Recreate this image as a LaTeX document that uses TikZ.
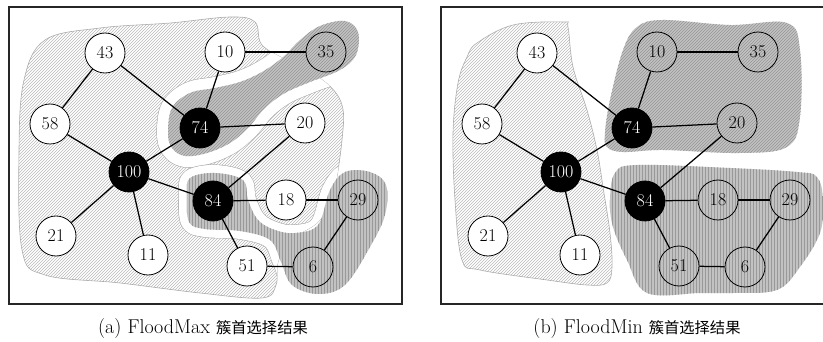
\documentclass[tikz,border=0pt]{standalone}
\usepackage{fontspec}
\newfontfamily\cjk{Noto Sans CJK SC}
\usetikzlibrary{patterns}
\tikzset{
  v/.style={circle, draw=black, line width=0.8pt, minimum size=40pt, inner sep=0pt, font=\fontsize{18}{18}\selectfont},
  vw/.style={v, fill=white},
  vb/.style={v, fill=black, text=white},
  ed/.style={line width=1.25pt, black},
  lightfill/.style={pattern=north east lines, pattern color=black!27},
  lightline/.style={draw=black!32, line width=0.6pt},
  darkbase/.style={fill=black!24},
  darkdiag/.style={pattern=north east lines, pattern color=black!42},
  darkvert/.style={pattern=vertical lines, pattern color=black!40},
  frame/.style={draw=black!85, line width=1.3pt},
  captext/.style={anchor=base, font=\fontsize{20}{20}\selectfont},
}
% left panel regions
\def\La{plot[smooth cycle, tension=0.6] coordinates {(19,150) (24,80) (45,40) (100,28) (170,23) (230,17) (255,22) (262,45) (290,62) (325,82) (342,105) (342,140) (333,195) (318,222) (290,240) (278,262) (276,285) (262,298) (200,293) (120,283) (45,275) (22,250)}}
\def\Da{plot[smooth cycle, tension=0.6] coordinates {(168,133) (172,108) (190,93) (215,88) (240,82) (262,72) (282,58) (300,40) (320,26) (345,21) (358,32) (356,55) (340,70) (310,82) (285,93) (265,108) (248,128) (230,143) (207,153) (185,156) (172,148)}}
\def\Db{plot[smooth cycle, tension=0.6] coordinates {(187,195) (190,178) (215,173) (243,180) (248,200) (258,220) (275,230) (295,233) (318,225) (330,190) (345,172) (370,172) (386,185) (385,215) (370,247) (345,285) (318,294) (292,285) (281,262) (270,240) (240,231) (205,229) (189,222)}}
% right panel regions (relative to shift 432)
\def\Lb{plot[smooth cycle, tension=0.6] coordinates {(45,43) (81,25) (131,22) (136,27) (141,67) (155,110) (165,150) (171,187) (178,233) (180,267) (175,283) (155,285) (115,280) (48,270) (30,260) (23,200) (21,133) (26,83) (35,57)}}
\def\Dc{plot[smooth cycle, tension=0.6] coordinates {(173,133) (178,100) (191,50) (205,27) (231,20) (298,25) (355,23) (368,50) (368,117) (355,147) (308,153) (231,150) (191,152) (175,147)}}
\def\Dd{plot[smooth cycle, tension=0.6] coordinates {(178,200) (183,173) (205,165) (298,168) (365,172) (385,177) (391,200) (388,233) (368,267) (345,290) (301,293) (268,293) (215,293) (195,260) (181,227)}}
\begin{document}
\begin{tikzpicture}[x=1pt, y=-1pt]
\useasboundingbox (0,0) rectangle (823,342);
\clip (0,0) rectangle (823,342);
% ===== left panel =====
\fill[lightfill] \La;
\draw[lightline] \La;
\begin{scope}
  \clip \La;
  \draw[black!32, line width=23.2pt, line join=round] \Da;
  \draw[white, line width=22pt, line join=round] \Da;
  \fill[white] \Da;
  \draw[black!32, line width=17.2pt, line join=round] \Db;
  \draw[white, line width=16pt, line join=round] \Db;
  \fill[white] \Db;
\end{scope}
\fill[darkbase] \Da;
\fill[darkdiag] \Da;
\fill[darkbase] \Db;
\fill[darkvert] \Db;
\path[frame] (9,7) rectangle (402,304);
\node[vw] (a43) at (105,53) {43};
\node[vw] (a10) at (225,52) {10};
\node[v]  (a35) at (326,52) {35};
\node[vw] (a58) at (50,124) {58};
\node[vb] (a74) at (200,128) {74};
\node[vw] (a20) at (305,123) {20};
\node[vb] (a100) at (129,172) {100};
\node[vb] (a84) at (213,201) {84};
\node[vw] (a18) at (286,200) {18};
\node[v]  (a29) at (358,200) {29};
\node[vw] (a21) at (56,236) {21};
\node[vw] (a11) at (148,255) {11};
\node[vw] (a51) at (247,266) {51};
\node[v]  (a6) at (313,267) {6};
\draw[ed] (a43) -- (a58);
\draw[ed] (a43) -- (a74);
\draw[ed] (a10) -- (a74);
\draw[ed] (a10) -- (a35);
\draw[ed] (a58) -- (a100);
\draw[ed] (a74) -- (a100);
\draw[ed] (a74) -- (a20);
\draw[ed] (a20) -- (a84);
\draw[ed] (a100) -- (a84);
\draw[ed] (a100) -- (a21);
\draw[ed] (a100) -- (a11);
\draw[ed] (a84) -- (a18);
\draw[ed] (a18) -- (a29);
\draw[ed] (a84) -- (a51);
\draw[ed] (a51) -- (a6);
\draw[ed] (a6) -- (a29);
\node[captext] (capa) at (203,334) {(a) FloodMax {\cjk\fontsize{15.3}{15.3}\selectfont 簇首选择结果}};
% ===== right panel =====
\begin{scope}[xshift=432pt]
\fill[lightfill] \Lb;
\draw[lightline] \Lb;
\fill[darkbase] \Dc;
\fill[darkdiag] \Dc;
\fill[darkbase] \Dd;
\fill[darkvert] \Dd;
\path[frame] (9,7) rectangle (402,304);
\node[vw] (b43) at (105,53) {43};
\node[v]  (b10) at (225,52) {10};
\node[v]  (b35) at (326,52) {35};
\node[vw] (b58) at (50,124) {58};
\node[vb] (b74) at (200,128) {74};
\node[v]  (b20) at (305,123) {20};
\node[vb] (b100) at (129,172) {100};
\node[vb] (b84) at (213,201) {84};
\node[v]  (b18) at (286,200) {18};
\node[v]  (b29) at (358,200) {29};
\node[vw] (b21) at (56,236) {21};
\node[vw] (b11) at (148,255) {11};
\node[v]  (b51) at (247,266) {51};
\node[v]  (b6) at (313,267) {6};
\draw[ed] (b43) -- (b58);
\draw[ed] (b43) -- (b74);
\draw[ed] (b10) -- (b74);
\draw[ed] (b10) -- (b35);
\draw[ed] (b58) -- (b100);
\draw[ed] (b74) -- (b100);
\draw[ed] (b74) -- (b20);
\draw[ed] (b20) -- (b84);
\draw[ed] (b100) -- (b84);
\draw[ed] (b100) -- (b21);
\draw[ed] (b100) -- (b11);
\draw[ed] (b84) -- (b18);
\draw[ed] (b18) -- (b29);
\draw[ed] (b84) -- (b51);
\draw[ed] (b51) -- (b6);
\draw[ed] (b6) -- (b29);
\node[captext] (capb) at (205,334) {(b) FloodMin {\cjk\fontsize{15.3}{15.3}\selectfont 簇首选择结果}};
\end{scope}
\end{tikzpicture}
\end{document}
